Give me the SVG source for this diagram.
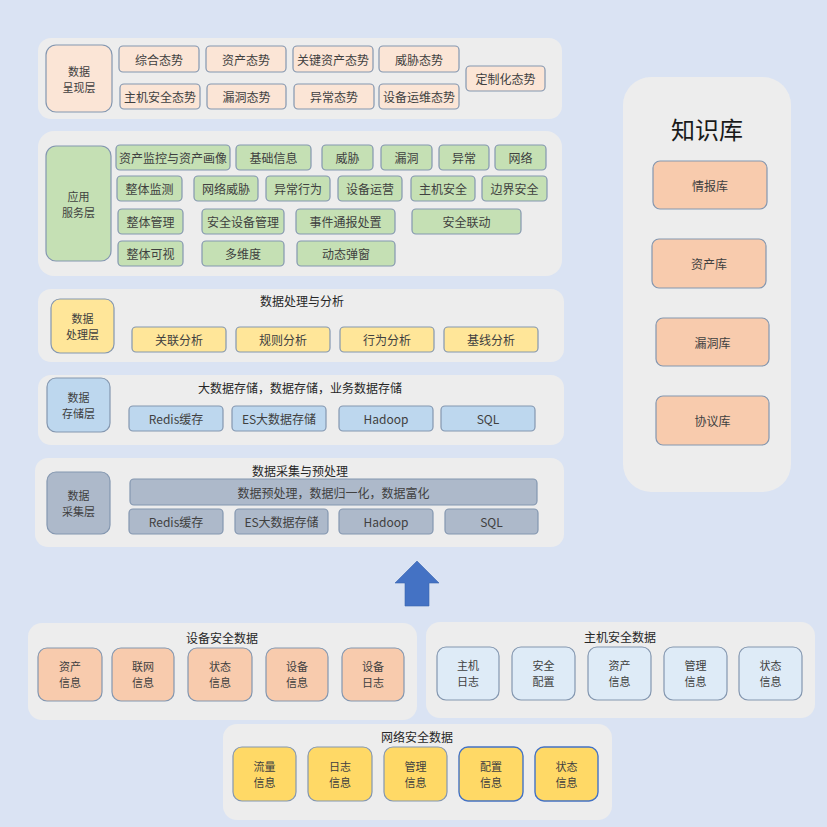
<svg xmlns="http://www.w3.org/2000/svg" width="827" height="827" viewBox="0 0 827 827">
<style>
text{font-family:"Noto Sans CJK SC","Noto Sans",sans-serif;font-size:12px;fill:#404040;text-anchor:middle;dominant-baseline:central}
.m{font-size:11px}
.t{fill:#262626}
.panel{fill:#EDEDED}
.b{stroke:#8497B0;stroke-width:1.2}
.pe{fill:#FBE5D6}
.or{fill:#F8CBAD}
.gr{fill:#C5E0B4}
.ye{fill:#FFE699}
.bl{fill:#BDD7EE}
.gy{fill:#ADB9CA}
.lb{fill:#DEEBF7}
.go{fill:#FFD966}
</style>
<rect width="827" height="827" fill="#DAE3F3"/>

<!-- 数据呈现层 -->
<g id="layer-present">
<rect class="panel" x="38" y="38" width="524" height="81" rx="13"/>
<rect class="b pe" x="46" y="45" width="66" height="67" rx="10"/>
<text class="m" x="79" y="71">数据</text><text class="m" x="79" y="87">呈现层</text>
<g id="p1"><rect class="b pe" x="119" y="46" width="80" height="26" rx="4"/><text x="159" y="59">综合态势</text></g>
<g id="p2"><rect class="b pe" x="206" y="46" width="80" height="26" rx="4"/><text x="246" y="59">资产态势</text></g>
<g id="p3"><rect class="b pe" x="293" y="46" width="80" height="26" rx="4"/><text x="333" y="59">关键资产态势</text></g>
<g id="p4"><rect class="b pe" x="379" y="46" width="80" height="26" rx="4"/><text x="419" y="59">威胁态势</text></g>
<g id="p5"><rect class="b pe" x="120" y="84" width="80" height="25" rx="4"/><text x="160" y="96.5">主机安全态势</text></g>
<g id="p6"><rect class="b pe" x="207" y="84" width="79" height="25" rx="4"/><text x="246.5" y="96.5">漏洞态势</text></g>
<g id="p7"><rect class="b pe" x="294" y="84" width="80" height="25" rx="4"/><text x="334" y="96.5">异常态势</text></g>
<g id="p8"><rect class="b pe" x="379" y="84" width="80" height="25" rx="4"/><text x="419" y="96.5">设备运维态势</text></g>
<g id="p9"><rect class="b pe" x="466" y="66" width="79" height="25" rx="4"/><text x="505.5" y="78.5">定制化态势</text></g>
</g>

<!-- 应用服务层 -->
<g id="layer-app">
<rect class="panel" x="38" y="131" width="524" height="145" rx="16"/>
<rect class="b gr" x="46" y="146" width="65" height="115" rx="10"/>
<text class="m" x="78.5" y="196">应用</text><text class="m" x="78.5" y="212">服务层</text>
<g id="a1"><rect class="b gr" x="116" y="145" width="114" height="25" rx="4"/><text x="173" y="157.5">资产监控与资产画像</text></g>
<g id="a2"><rect class="b gr" x="236" y="145" width="75" height="25" rx="4"/><text x="273.5" y="157.5">基础信息</text></g>
<g id="a3"><rect class="b gr" x="322" y="145" width="51" height="25" rx="4"/><text x="347.5" y="157.5">威胁</text></g>
<g id="a4"><rect class="b gr" x="381" y="145" width="51" height="25" rx="4"/><text x="406.5" y="157.5">漏洞</text></g>
<g id="a5"><rect class="b gr" x="439" y="145" width="50" height="25" rx="4"/><text x="464" y="157.5">异常</text></g>
<g id="a6"><rect class="b gr" x="495" y="145" width="51" height="25" rx="4"/><text x="520.5" y="157.5">网络</text></g>
<g id="a7"><rect class="b gr" x="117" y="176" width="65" height="25" rx="4"/><text x="149.5" y="188.5">整体监测</text></g>
<g id="a8"><rect class="b gr" x="194" y="176" width="64" height="25" rx="4"/><text x="226" y="188.5">网络威胁</text></g>
<g id="a9"><rect class="b gr" x="266" y="176" width="64" height="25" rx="4"/><text x="298" y="188.5">异常行为</text></g>
<g id="a10"><rect class="b gr" x="338" y="176" width="64" height="25" rx="4"/><text x="370" y="188.5">设备运营</text></g>
<g id="a11"><rect class="b gr" x="411" y="176" width="64" height="25" rx="4"/><text x="443" y="188.5">主机安全</text></g>
<g id="a12"><rect class="b gr" x="482" y="176" width="65" height="25" rx="4"/><text x="514.5" y="188.5">边界安全</text></g>
<g id="a13"><rect class="b gr" x="118" y="209" width="65" height="25" rx="4"/><text x="150.5" y="221.5">整体管理</text></g>
<g id="a14"><rect class="b gr" x="202" y="209" width="82" height="25" rx="4"/><text x="243" y="221.5">安全设备管理</text></g>
<g id="a15"><rect class="b gr" x="296" y="209" width="99" height="25" rx="4"/><text x="345.5" y="221.5">事件通报处置</text></g>
<g id="a16"><rect class="b gr" x="412" y="209" width="109" height="25" rx="4"/><text x="466.5" y="221.5">安全联动</text></g>
<g id="a17"><rect class="b gr" x="118" y="241" width="65" height="25" rx="4"/><text x="150.5" y="253.5">整体可视</text></g>
<g id="a18"><rect class="b gr" x="202" y="241" width="82" height="25" rx="4"/><text x="243" y="253.5">多维度</text></g>
<g id="a19"><rect class="b gr" x="297" y="241" width="98" height="25" rx="4"/><text x="346" y="253.5">动态弹窗</text></g>
</g>

<!-- 数据处理层 -->
<g id="layer-process">
<rect class="panel" x="38" y="289" width="526" height="73" rx="13"/>
<rect class="b ye" x="51" y="299" width="63" height="54" rx="9"/>
<text class="m" x="82.5" y="318">数据</text><text class="m" x="82.5" y="334">处理层</text>
<text class="t" x="302" y="300">数据处理与分析</text>
<g id="d1"><rect class="b ye" x="132" y="327" width="94" height="25" rx="4"/><text x="179" y="339.5">关联分析</text></g>
<g id="d2"><rect class="b ye" x="236" y="327" width="94" height="25" rx="4"/><text x="283" y="339.5">规则分析</text></g>
<g id="d3"><rect class="b ye" x="340" y="327" width="94" height="25" rx="4"/><text x="387" y="339.5">行为分析</text></g>
<g id="d4"><rect class="b ye" x="444" y="327" width="94" height="25" rx="4"/><text x="491" y="339.5">基线分析</text></g>
</g>

<!-- 数据存储层 -->
<g id="layer-storage">
<rect class="panel" x="38" y="375" width="526" height="70" rx="13"/>
<rect class="b bl" x="47" y="378" width="63" height="54" rx="9"/>
<text class="m" x="78.5" y="397">数据</text><text class="m" x="78.5" y="413">存储层</text>
<text class="t" x="300" y="387">大数据存储，数据存储，业务数据存储</text>
<g id="s1"><rect class="b bl" x="129" y="406" width="94" height="25" rx="4"/><text x="176" y="418.5">Redis缓存</text></g>
<g id="s2"><rect class="b bl" x="232" y="406" width="94" height="25" rx="4"/><text x="279" y="418.5">ES大数据存储</text></g>
<g id="s3"><rect class="b bl" x="339" y="406" width="94" height="25" rx="4"/><text x="386" y="418.5">Hadoop</text></g>
<g id="s4"><rect class="b bl" x="441" y="406" width="94" height="25" rx="4"/><text x="488" y="418.5">SQL</text></g>
</g>

<!-- 数据采集层 -->
<g id="layer-collect">
<rect class="panel" x="35" y="458" width="529" height="89" rx="13"/>
<rect class="b gy" x="47" y="472" width="63" height="62" rx="9"/>
<text class="m" x="78.5" y="495">数据</text><text class="m" x="78.5" y="511">采集层</text>
<text class="t" x="300" y="470">数据采集与预处理</text>
<g id="c0"><rect class="b gy" x="130" y="479" width="407" height="26" rx="4"/><text x="333.5" y="492">数据预处理，数据归一化，数据富化</text></g>
<g id="c1"><rect class="b gy" x="129" y="509" width="94" height="25" rx="4"/><text x="176" y="521.5">Redis缓存</text></g>
<g id="c2"><rect class="b gy" x="235" y="509" width="93" height="25" rx="4"/><text x="281.5" y="521.5">ES大数据存储</text></g>
<g id="c3"><rect class="b gy" x="339" y="509" width="94" height="25" rx="4"/><text x="386" y="521.5">Hadoop</text></g>
<g id="c4"><rect class="b gy" x="445" y="509" width="93" height="25" rx="4"/><text x="491.5" y="521.5">SQL</text></g>
</g>

<!-- 知识库 -->
<g id="knowledge">
<rect class="panel" x="623" y="77" width="168" height="415" rx="28"/>
<text x="707" y="128" style="font-size:24px;fill:#1a1a1a">知识库</text>
<g id="k1"><rect class="b or" x="653" y="161" width="114" height="48" rx="7"/><text x="710" y="185">情报库</text></g>
<g id="k2"><rect class="b or" x="652" y="239" width="114" height="49" rx="7"/><text x="709" y="263.5">资产库</text></g>
<g id="k3"><rect class="b or" x="656" y="318" width="113" height="48" rx="7"/><text x="712.5" y="342">漏洞库</text></g>
<g id="k4"><rect class="b or" x="656" y="396" width="113" height="49" rx="7"/><text x="712.5" y="420.5">协议库</text></g>
</g>

<!-- 箭头 -->
<g id="connectors">
<polygon points="417,561 439,583 429,583 429,606 405,606 405,583 395,583" fill="#4472C4" stroke="#3B64AE" stroke-width="0.6"/>
</g>

<!-- 设备安全数据 -->
<g id="device-data">
<rect class="panel" x="28" y="623" width="389" height="97" rx="14"/>
<text class="t" x="222" y="637">设备安全数据</text>
<g id="dv1"><rect class="b or" x="38" y="648" width="64" height="53" rx="9"/><text class="m" x="70" y="666">资产</text><text class="m" x="70" y="682">信息</text></g>
<g id="dv2"><rect class="b or" x="112" y="648" width="62" height="53" rx="9"/><text class="m" x="143" y="666">联网</text><text class="m" x="143" y="682">信息</text></g>
<g id="dv3"><rect class="b or" x="188" y="648" width="64" height="53" rx="9"/><text class="m" x="220" y="666">状态</text><text class="m" x="220" y="682">信息</text></g>
<g id="dv4"><rect class="b or" x="266" y="648" width="62" height="53" rx="9"/><text class="m" x="297" y="666">设备</text><text class="m" x="297" y="682">信息</text></g>
<g id="dv5"><rect class="b or" x="342" y="648" width="62" height="53" rx="9"/><text class="m" x="373" y="666">设备</text><text class="m" x="373" y="682">日志</text></g>
</g>

<!-- 主机安全数据 -->
<g id="host-data">
<rect class="panel" x="426" y="622" width="389" height="96" rx="14"/>
<text class="t" x="620" y="636">主机安全数据</text>
<g id="h1"><rect class="b lb" x="437" y="647" width="62" height="53" rx="9"/><text class="m" x="468" y="665">主机</text><text class="m" x="468" y="681">日志</text></g>
<g id="h2"><rect class="b lb" x="512" y="647" width="63" height="53" rx="9"/><text class="m" x="543.5" y="665">安全</text><text class="m" x="543.5" y="681">配置</text></g>
<g id="h3"><rect class="b lb" x="588" y="647" width="63" height="53" rx="9"/><text class="m" x="619.5" y="665">资产</text><text class="m" x="619.5" y="681">信息</text></g>
<g id="h4"><rect class="b lb" x="664" y="647" width="63" height="53" rx="9"/><text class="m" x="695.5" y="665">管理</text><text class="m" x="695.5" y="681">信息</text></g>
<g id="h5"><rect class="b lb" x="739" y="647" width="63" height="53" rx="9"/><text class="m" x="770.5" y="665">状态</text><text class="m" x="770.5" y="681">信息</text></g>
</g>

<!-- 网络安全数据 -->
<g id="network-data">
<rect class="panel" x="223" y="724" width="389" height="96" rx="14"/>
<text class="t" x="417" y="736">网络安全数据</text>
<g id="n1"><rect class="b go" x="233" y="747" width="63" height="54" rx="9"/><text class="m" x="264.5" y="766">流量</text><text class="m" x="264.5" y="782">信息</text></g>
<g id="n2"><rect class="b go" x="308" y="747" width="64" height="54" rx="9"/><text class="m" x="340" y="766">日志</text><text class="m" x="340" y="782">信息</text></g>
<g id="n3"><rect class="b go" x="384" y="747" width="63" height="54" rx="9"/><text class="m" x="415.5" y="766">管理</text><text class="m" x="415.5" y="782">信息</text></g>
<g id="n4"><rect class="go" x="459" y="747" width="64" height="54" rx="9" stroke="#4472C4" stroke-width="1.4"/><text class="m" x="491" y="766">配置</text><text class="m" x="491" y="782">信息</text></g>
<g id="n5"><rect class="go" x="535" y="747" width="63" height="54" rx="9" stroke="#4472C4" stroke-width="1.4"/><text class="m" x="566.5" y="766">状态</text><text class="m" x="566.5" y="782">信息</text></g>
</g>
</svg>
